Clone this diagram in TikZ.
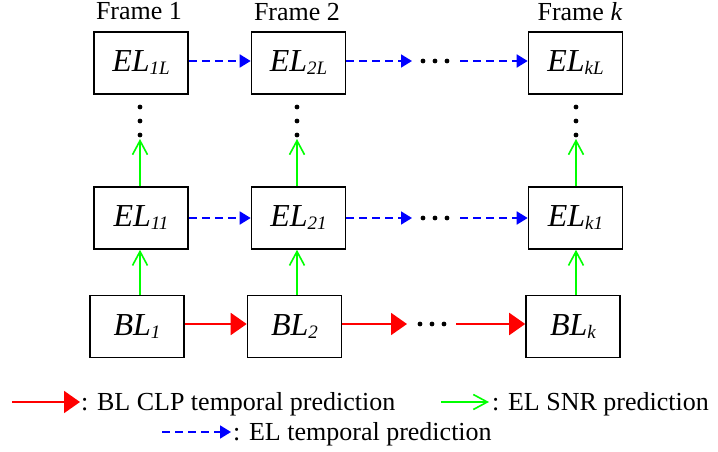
\documentclass[tikz,border=0pt]{standalone}
\usepackage{fontspec}
\setmainfont{Liberation Serif}
\newfontfamily\tms{Liberation Serif}
\usetikzlibrary{arrows.meta, positioning}
\tikzstyle{layer} = [draw=black, line width=1.6pt, minimum width=94pt, minimum height=62pt, inner sep=0pt]
\tikzstyle{blarrow} = [draw=red, line width=2pt, -{Triangle[length=16pt,width=22pt]}]
\tikzstyle{snrarrow} = [draw=green, line width=1.6pt, -{Straight Barb[length=14pt,width=15pt,line width=1.6pt]}]
\tikzstyle{elarrow} = [draw=blue, line width=1.8pt, dash pattern=on 8pt off 5pt, -{Triangle[length=11pt,width=13pt]}]
\newcommand{\lyr}[2]{\tms\fontsize{32}{32}\selectfont\itshape #1\raisebox{-3pt}{\fontsize{19}{19}\selectfont #2}}
\newcommand{\lgd}{\tms\fontsize{26}{26}\selectfont}

\begin{document}
\begin{tikzpicture}[x=1pt, y=-1pt]
    \useasboundingbox (0,0) rectangle (718,452);

    % Frame titles
    \node[anchor=base, inner sep=0pt] (f1) at (139,20) {\lgd Frame 1};
    \node[anchor=base, inner sep=0pt] (f2) at (297,21) {\lgd Frame 2};
    \node[anchor=base, inner sep=0pt] (fk) at (580,21) {\lgd Frame \textit{k}};

    % Top enhancement layer
    \node[layer] (el1L) at (141,63) {\lyr{EL}{1L}};
    \node[layer] (el2L) at (298.5,63) {\lyr{EL}{2L}};
    \node[layer] (elkL) at (575.5,63) {\lyr{EL}{kL}};

    % First enhancement layer
    \node[layer] (el11) at (141,218) {\lyr{EL}{11}};
    \node[layer] (el21) at (298.5,218) {\lyr{EL}{21}};
    \node[layer] (elk1) at (575.5,218) {\lyr{EL}{k1}};

    % Base layer
    \node[layer] (bl1) at (137,326.5) {\lyr{BL}{1}};
    \node[layer] (bl2) at (294.5,326.5) {\lyr{BL}{2}};
    \node[layer] (blk) at (573,326.5) {\lyr{BL}{k}};

    % Vertical dots between layers
    \foreach \x in {140,297,576}
        \foreach \y in {107,121,135}
            \fill (\x,\y) circle (2.4);

    % Horizontal dots before frame k
    \foreach \x in {423,435,447} {
        \fill (\x,61) circle (2.4);
        \fill (\x,218) circle (2.4);
    }
    \foreach \x in {420,432,444}
        \fill (\x,324) circle (2.4);

    % EL temporal prediction
    \coordinate (t1) at (412,61);
    \coordinate (t2) at (460,61);
    \draw[elarrow] (el1L.east |- t1) -- (el2L.west |- t1);
    \draw[elarrow] (el2L.east |- t1) -- (t1);
    \draw[elarrow] (t2) -- (elkL.west |- t2);
    \coordinate (m1) at (412,218);
    \coordinate (m2) at (460,218);
    \draw[elarrow] (el11.east) -- (el21.west);
    \draw[elarrow] (el21.east) -- (m1);
    \draw[elarrow] (m2) -- (elk1.west);

    % BL temporal prediction
    \coordinate (b1) at (407,324);
    \coordinate (b2) at (456,324);
    \draw[blarrow] (bl1.east |- b1) -- (bl2.west |- b1);
    \draw[blarrow] (bl2.east |- b1) -- (b1);
    \draw[blarrow] (b2) -- (blk.west |- b2);

    % SNR prediction
    \coordinate (s1) at (140,139);
    \coordinate (s2) at (297,139);
    \coordinate (sk) at (576,139);
    \draw[snrarrow] (s1 |- el11.north) -- (s1);
    \draw[snrarrow] (s2 |- el21.north) -- (s2);
    \draw[snrarrow] (sk |- elk1.north) -- (sk);
    \draw[snrarrow] (s1 |- bl1.north) -- (s1 |- el11.south);
    \draw[snrarrow] (s2 |- bl2.north) -- (s2 |- el21.south);
    \draw[snrarrow] (sk |- blk.north) -- (sk |- elk1.south);

    % Legend
    \coordinate (lr0) at (12,402);
    \coordinate (lr1) at (80,402);
    \draw[blarrow] (lr0) -- (lr1);
    \node[anchor=base west, inner sep=0pt] (lbl) at (81,410) {\lgd : BL CLP temporal prediction};
    \coordinate (lg0) at (441,402);
    \coordinate (lg1) at (489,402);
    \draw[snrarrow] (lg0) -- (lg1);
    \node[anchor=base west, inner sep=0pt] (lsnr) at (492,410) {\lgd : EL SNR prediction};
    \coordinate (lb0) at (162,432);
    \coordinate (lb1) at (231,432);
    \draw[elarrow] (lb0) -- (lb1);
    \node[anchor=base west, inner sep=0pt] (lel) at (233,440) {\lgd : EL temporal prediction};
\end{tikzpicture}
\end{document}
